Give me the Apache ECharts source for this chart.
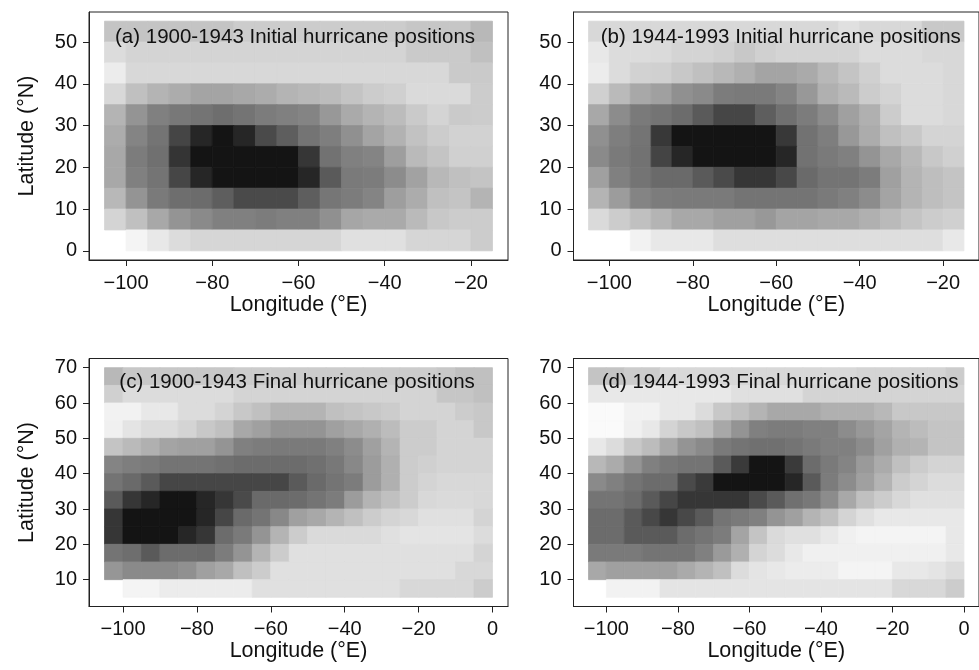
<!DOCTYPE html>
<html>
<head>
<meta charset="utf-8">
<title>Hurricane positions</title>
<script src="https://cdn.jsdelivr.net/npm/echarts@6/dist/echarts.min.js"></script>
<style>
  html, body { margin: 0; padding: 0; background: #fff; }
  #main { width: 979px; height: 670px; }
</style>
</head>
<body>
<div id="main"></div>
<script>
// cell west edges (lon) and south edges (lat), 5 degree boxes
var lonInit = [-105, -100, -95, -90, -85, -80, -75, -70, -65, -60, -55, -50, -45, -40, -35, -30, -25, -20];
var latInit = [50, 45, 40, 35, 30, 25, 20, 15, 10, 5, 0];
var lonFinal = [-105, -100, -95, -90, -85, -80, -75, -70, -65, -60, -55, -50, -45, -40, -35, -30, -25, -20, -15, -10, -5];
var latFinal = [65, 60, 55, 50, 45, 40, 35, 30, 25, 20, 15, 10, 5];

var xTicksInit = [-100, -80, -60, -40, -20];
var yTicksInit = [0, 10, 20, 30, 40, 50];
var xTicksFinal = [-100, -80, -60, -40, -20, 0];
var yTicksFinal = [10, 20, 30, 40, 50, 60, 70];

var panelTitles = [
  '(a) 1900-1943 Initial hurricane positions',
  '(b) 1944-1993 Initial hurricane positions',
  '(c) 1900-1943 Final hurricane positions',
  '(d) 1944-1993 Final hurricane positions'
];

// shading density per cell, rows north -> south, columns west -> east (0 = white, 235 = black)
var densA = [
  [59, 59, 59, 59, 59, 59, 51, 51, 51, 51, 51, 51, 51, 51, 57, 57, 57, 71],
  [35, 43, 43, 43, 43, 43, 43, 43, 43, 43, 43, 43, 43, 43, 53, 53, 53, 63],
  [19, 39, 39, 39, 39, 39, 39, 39, 39, 39, 39, 39, 39, 39, 39, 39, 53, 53],
  [39, 63, 75, 83, 91, 91, 87, 83, 75, 71, 67, 59, 51, 47, 37, 37, 37, 51],
  [75, 107, 127, 135, 139, 145, 139, 131, 127, 123, 103, 85, 75, 67, 53, 43, 53, 51],
  [83, 123, 139, 186, 217, 235, 217, 181, 161, 139, 129, 111, 91, 77, 61, 51, 45, 45],
  [87, 131, 143, 203, 235, 235, 235, 235, 235, 201, 141, 127, 123, 97, 69, 59, 47, 47],
  [87, 127, 139, 185, 217, 235, 235, 235, 235, 217, 165, 133, 131, 115, 93, 71, 63, 59],
  [71, 107, 133, 145, 147, 161, 181, 181, 181, 161, 137, 131, 123, 97, 83, 63, 59, 75],
  [43, 63, 87, 107, 117, 127, 127, 131, 127, 127, 111, 89, 85, 85, 69, 55, 51, 51],
  [null, 11, 23, 35, 41, 41, 41, 41, 41, 41, 41, 31, 31, 31, 41, 41, 41, 51]
];
var densB = [
  [39, 39, 39, 39, 39, 39, 39, 39, 39, 39, 39, 39, 31, 39, 39, 39, 55, 55],
  [23, 35, 35, 37, 43, 43, 47, 55, 47, 43, 43, 43, 43, 35, 35, 35, 39, 39],
  [19, 35, 45, 47, 55, 63, 71, 79, 91, 91, 85, 71, 59, 47, 35, 35, 35, 39],
  [47, 69, 87, 95, 111, 117, 131, 133, 133, 123, 103, 79, 69, 51, 43, 35, 35, 39],
  [87, 115, 133, 139, 147, 165, 185, 185, 161, 143, 131, 115, 95, 79, 51, 35, 35, 39],
  [111, 129, 139, 199, 235, 235, 235, 235, 235, 199, 141, 129, 103, 83, 63, 55, 43, 43],
  [117, 133, 141, 187, 217, 235, 235, 235, 235, 217, 141, 133, 127, 107, 87, 71, 55, 47],
  [95, 127, 139, 149, 149, 165, 181, 201, 201, 183, 149, 139, 139, 131, 95, 75, 65, 59],
  [75, 99, 123, 131, 133, 133, 133, 139, 139, 139, 139, 133, 127, 115, 91, 75, 65, 59],
  [37, 51, 63, 75, 87, 87, 95, 95, 103, 91, 91, 87, 87, 79, 69, 59, 51, 47],
  [null, null, 13, 23, 23, 23, 33, 33, 33, 33, 33, 33, 33, 33, 33, 33, 33, 23]
];
var densC = [
  [71, 55, 55, 55, 55, 55, 55, 51, 51, 51, 51, 51, 51, 51, 51, 51, 51, 51, 55, 63, 63],
  [47, 35, 35, 35, 35, 35, 35, 43, 43, 43, 43, 43, 43, 43, 43, 43, 43, 43, 57, 57, 63],
  [13, 13, 23, 23, 35, 35, 43, 55, 63, 75, 75, 75, 63, 59, 55, 51, 43, 43, 43, 51, 55],
  [15, 27, 35, 35, 43, 55, 63, 87, 95, 107, 107, 107, 95, 87, 79, 67, 51, 51, 43, 43, 55],
  [59, 69, 79, 91, 95, 95, 107, 127, 131, 133, 133, 133, 127, 115, 95, 75, 51, 51, 43, 43, 43],
  [123, 129, 133, 139, 139, 139, 143, 147, 147, 147, 147, 143, 135, 119, 99, 79, 51, 47, 43, 43, 43],
  [139, 149, 165, 185, 185, 185, 185, 185, 185, 185, 165, 149, 139, 131, 99, 79, 51, 43, 39, 39, 39],
  [165, 201, 217, 235, 235, 217, 201, 181, 149, 149, 147, 139, 131, 99, 75, 63, 51, 39, 37, 37, 39],
  [201, 235, 235, 235, 235, 217, 185, 149, 139, 119, 95, 87, 75, 63, 51, 43, 39, 31, 31, 31, 43],
  [201, 235, 235, 235, 217, 201, 147, 133, 107, 75, 51, 37, 37, 37, 37, 31, 27, 27, 27, 27, 35],
  [139, 145, 165, 147, 147, 149, 131, 107, 75, 51, 31, 31, 31, 31, 31, 31, 31, 31, 31, 31, 43],
  [105, 117, 117, 117, 111, 95, 87, 63, 51, 31, 31, 31, 31, 31, 31, 31, 31, 31, 31, 39, 39],
  [null, 11, 11, 19, 19, 19, 19, 19, 31, 31, 31, 31, 31, 31, 31, 31, 39, 39, 39, 39, 51]
];
var densD = [
  [59, 59, 51, 51, 39, 39, 39, 39, 39, 39, 39, 39, 39, 39, 39, 43, 43, 43, 43, 43, 51],
  [23, 23, 23, 23, 23, 23, 23, 23, 31, 31, 31, 31, 43, 43, 43, 43, 43, 43, 43, 43, 43],
  [5, 5, 13, 13, 23, 23, 35, 55, 63, 75, 87, 87, 87, 79, 79, 79, 71, 55, 55, 55, 55],
  [5, 5, 15, 23, 43, 55, 63, 87, 107, 127, 131, 131, 127, 127, 115, 103, 91, 75, 67, 59, 59],
  [23, 35, 55, 67, 87, 107, 117, 133, 139, 143, 143, 139, 133, 127, 127, 115, 95, 79, 75, 59, 59],
  [71, 84, 107, 127, 135, 139, 139, 165, 197, 235, 235, 197, 147, 133, 123, 101, 84, 63, 51, 43, 43],
  [117, 127, 139, 147, 147, 181, 197, 235, 235, 235, 235, 217, 165, 131, 115, 95, 75, 51, 43, 35, 35],
  [139, 139, 147, 165, 185, 201, 201, 201, 201, 181, 165, 143, 135, 115, 87, 63, 51, 39, 31, 31, 31],
  [147, 147, 165, 183, 201, 183, 165, 139, 133, 127, 107, 95, 75, 63, 43, 31, 23, 23, 23, 23, 23],
  [147, 147, 165, 165, 165, 147, 139, 131, 91, 59, 37, 31, 31, 23, 15, 11, 11, 11, 11, 11, 23],
  [133, 133, 133, 139, 139, 139, 127, 101, 79, 43, 35, 23, 15, 15, 15, 15, 15, 15, 15, 15, 23],
  [87, 95, 95, 95, 95, 85, 75, 63, 35, 27, 23, 19, 19, 19, 11, 11, 11, 23, 23, 27, 35],
  [null, 13, 13, 13, 27, 27, 27, 27, 27, 27, 27, 27, 27, 27, 27, 27, 27, 39, 39, 39, 51]
];

var CELL = 5;

function toCells(lons, lats, rows) {
  var out = [];
  rows.forEach(function (row, i) {
    row.forEach(function (v, j) {
      if (v !== null) out.push([lons[j], lats[i], v]);
    });
  });
  return out;
}

function renderCell(params, api) {
  var lon = api.value(0);
  var lat = api.value(1);
  var p0 = api.coord([lon, lat + CELL]);
  var p1 = api.coord([lon + CELL, lat]);
  var c = api.visual('color');
  return {
    type: 'rect',
    shape: { x: p0[0], y: p0[1], width: p1[0] - p0[0], height: p1[1] - p0[1] },
    style: { fill: c, stroke: c, lineWidth: 0.8 }
  };
}

var FONT = "'Liberation Sans', Arial, Helvetica, sans-serif";
var minus = function (v) { return String(v).replace('-', '\u2212'); };

function xAxisFor(idx, ticks, min, max) {
  return {
    type: 'value', gridIndex: idx, min: min, max: max,
    name: 'Longitude (\u00b0E)', nameLocation: 'middle', nameGap: 33,
    nameTextStyle: { fontFamily: FONT, fontSize: 21.5, color: '#111' },
    axisLine: { show: true, onZero: false, lineStyle: { color: '#222', width: 1 } },
    axisTick: { show: true, inside: false, length: 6, customValues: ticks, lineStyle: { color: '#222' } },
    axisLabel: { customValues: ticks, margin: 13, formatter: minus, fontFamily: FONT, fontSize: 20, color: '#111' },
    splitLine: { show: false }
  };
}
function yAxisFor(idx, ticks, min, max, withName) {
  return {
    type: 'value', gridIndex: idx, min: min, max: max,
    name: withName ? 'Latitude (\u00b0N)' : '', nameLocation: 'middle', nameGap: 51,
    nameTextStyle: { fontFamily: FONT, fontSize: 21.5, color: '#111' },
    axisLine: { show: true, onZero: false, lineStyle: { color: '#222', width: 1 } },
    axisTick: { show: true, inside: false, length: 6, customValues: ticks, lineStyle: { color: '#222' } },
    axisLabel: { customValues: ticks, margin: 12, fontFamily: FONT, fontSize: 20, color: '#111' },
    splitLine: { show: false }
  };
}

var grids = [
  { left: 89, top: 12, width: 419, height: 248 },
  { left: 573.5, top: 12, width: 419, height: 248 },
  { left: 89, top: 358.5, width: 419, height: 248 },
  { left: 573.5, top: 358.5, width: 419, height: 248 }
];
grids.forEach(function (g) { g.show = true; g.borderColor = '#222'; g.borderWidth = 1; g.backgroundColor = 'transparent'; });

var titlePos = [[115, 37.5], [600.7, 37.5], [119.3, 382], [601.7, 382]];

var chart = echarts.init(document.getElementById('main'), null, { renderer: 'canvas' });
chart.setOption({
  animation: false,
  backgroundColor: '#fff',
  grid: grids,
  xAxis: [
    xAxisFor(0, xTicksInit, -108.6, -11.4),
    xAxisFor(1, xTicksInit, -108.6, -11.4),
    xAxisFor(2, xTicksFinal, -109.2, 4.2),
    xAxisFor(3, xTicksFinal, -109.2, 4.2)
  ],
  yAxis: [
    yAxisFor(0, yTicksInit, -2.2, 57.2, true),
    yAxisFor(1, yTicksInit, -2.2, 57.2, false),
    yAxisFor(2, yTicksFinal, 2.4, 72.6, true),
    yAxisFor(3, yTicksFinal, 2.4, 72.6, false)
  ],
  visualMap: {
    type: 'continuous', show: false, dimension: 2, min: 0, max: 235,
    seriesIndex: [0, 1, 2, 3],
    inRange: { color: ['#ffffff', '#141414'] }
  },
  series: [
    { type: 'custom', xAxisIndex: 0, yAxisIndex: 0, renderItem: renderCell, encode: { x: 0, y: 1 }, clip: true, data: toCells(lonInit, latInit, densA) },
    { type: 'custom', xAxisIndex: 1, yAxisIndex: 1, renderItem: renderCell, encode: { x: 0, y: 1 }, clip: true, data: toCells(lonInit, latInit, densB) },
    { type: 'custom', xAxisIndex: 2, yAxisIndex: 2, renderItem: renderCell, encode: { x: 0, y: 1 }, clip: true, data: toCells(lonFinal, latFinal, densC) },
    { type: 'custom', xAxisIndex: 3, yAxisIndex: 3, renderItem: renderCell, encode: { x: 0, y: 1 }, clip: true, data: toCells(lonFinal, latFinal, densD) }
  ],
  graphic: panelTitles.map(function (t, i) {
    return {
      type: 'text', x: titlePos[i][0], y: titlePos[i][1], z: 100,
      style: { text: t, fontFamily: FONT, fontSize: 20.5, fill: '#111', textVerticalAlign: 'middle' }
    };
  })
});
</script>
</body>
</html>
